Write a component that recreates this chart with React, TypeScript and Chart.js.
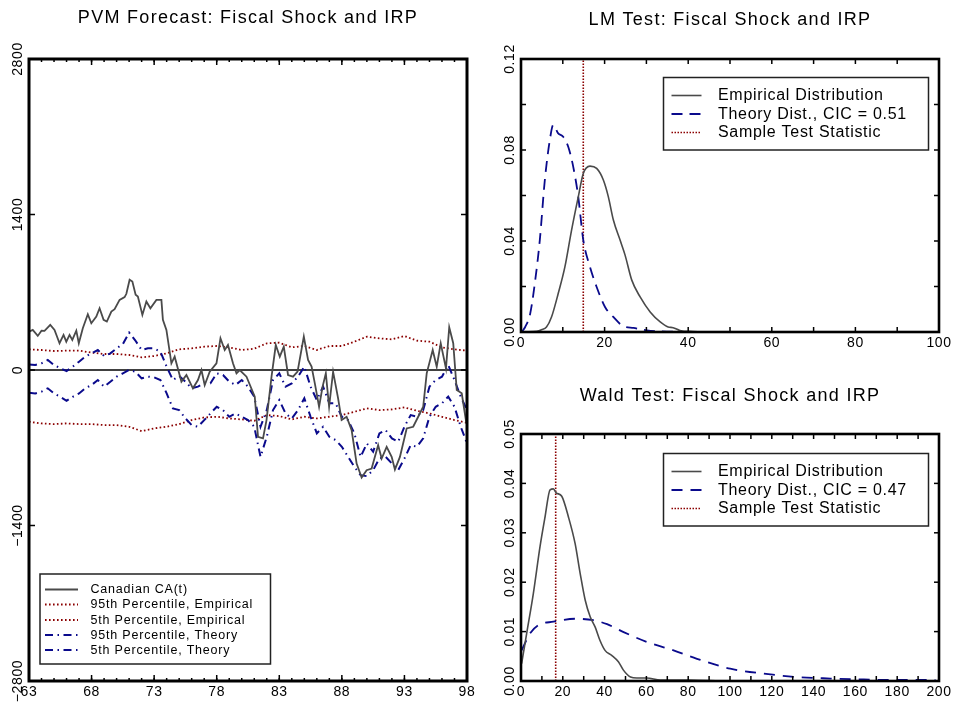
import React, { useEffect, useRef } from 'react';
import { Chart, registerables } from 'chart.js';
Chart.register(...registerables);

// ---------------- PVM panel data ----------------
const caYears = [63.0, 63.3, 63.7, 64.0, 64.24, 64.7, 65.04, 65.44, 65.76, 65.98,
  66.24, 66.46, 66.78, 66.98, 67.3, 67.7, 67.98, 68.38, 68.64, 68.96,
  69.22, 69.58, 69.84, 70.24, 70.64, 70.78, 71.04, 71.26, 71.52, 71.7,
  72.06, 72.38, 72.7, 73.18, 73.58, 73.7, 73.98, 74.38, 74.64, 75.18,
  75.58, 76.1, 76.5, 76.78, 77.04, 77.44, 77.98, 78.3, 78.64, 78.9,
  79.3, 79.58, 79.84, 80.38, 81.04, 81.3, 81.7, 81.98, 82.38, 82.72,
  83.04, 83.36, 83.7, 84.1, 84.46, 84.96, 85.3, 85.58, 85.84, 86.18,
  86.46, 86.72, 86.98, 87.3, 87.7, 87.98, 88.38, 88.78, 89.18, 89.58,
  89.98, 90.38, 90.64, 90.9, 91.18, 91.58, 91.98, 92.24, 92.64, 93.18,
  93.7, 94.1, 94.5, 94.78, 95.26, 95.58, 95.9, 96.32, 96.58, 96.9,
  97.18, 97.58, 97.95];
const caValues = [345, 361, 307, 354, 352, 406, 361, 241, 316, 255,
  316, 271, 354, 241, 376, 502, 421, 481, 556, 451,
  436, 526, 547, 631, 656, 686, 812, 796, 677, 661,
  496, 616, 556, 631, 631, 451, 361, 60, 120, -105,
  -45, -165, -90, 0, -135, -15, 60, 286, 180, 226,
  60, -30, 0, -60, -241, -601, -616, -451, -60, 225,
  120, 210, -45, -60, -15, 300, 90, 30, -120, -331,
  -150, -30, -331, -15, -255, -451, -421, -541, -842, -968,
  -902, -887, -782, -677, -797, -692, -782, -896, -782, -526,
  -511, -421, -331, -30, 180, 30, 241, 15, 385, 241,
  -180, -210, -481];

const empYears = [63, 64, 65, 66, 67, 68, 69, 70, 71, 72, 73, 74, 75, 76, 77, 78, 79, 80,
  81, 82, 83, 84, 85, 86, 87, 88, 89, 90, 91, 92, 93, 94, 95, 96, 97, 98];
const emp95 = [186, 180, 171, 174, 174, 156, 144, 144, 135, 114,
  126, 150, 186, 195, 210, 216, 204, 180, 192, 240,
  246, 204, 216, 180, 216, 216, 255, 300, 285, 276,
  306, 264, 255, 204, 186, 174];
const emp5 = [-466, -481, -487, -481, -487, -487, -496, -496, -511, -550,
  -526, -511, -487, -451, -427, -421, -436, -445, -457, -406,
  -415, -445, -421, -436, -421, -406, -376, -346, -361, -355,
  -337, -367, -391, -421, -451, -475];

const theoryYears = [63, 63.5, 64, 64.5, 65, 65.5, 66, 66.5, 67, 67.5,
  68, 68.5, 69, 69.5, 70, 70.5, 71, 71.5, 72, 72.5,
  73, 73.5, 74, 74.5, 75, 75.5, 76, 76.5, 77, 77.5,
  78, 78.5, 79, 79.5, 80, 80.5, 81, 81.5, 82, 82.5,
  83, 83.5, 84, 84.5, 85, 85.5, 86, 86.5, 87, 87.5,
  88, 88.5, 89, 89.5, 90, 90.5, 91, 91.5, 92, 92.5,
  93, 93.5, 94, 94.5, 95, 95.5, 96, 96.5, 97, 97.5, 98];
const theory95 = [49, 45, 60, 90, 45, 15, -9, 30, 75, 120,
  150, 180, 126, 150, 195, 234, 337, 265, 180, 195,
  195, 165, 30, -90, -54, -105, -165, -150, -120, -120,
  -30, -45, -105, -135, -90, -150, -240, -511, -361, -90,
  -30, -150, -120, -60, 30, -150, -270, -150, -300, -300,
  -421, -451, -571, -782, -661, -736, -571, -541, -616, -646,
  -511, -406, -421, -361, -150, -90, -60, 45, -90, -240, -361];
const theory5 = [-205, -211, -195, -165, -211, -241, -277, -241, -211, -165,
  -135, -90, -150, -105, -60, -30, 0, -15, -75, -60,
  -66, -90, -211, -346, -361, -436, -496, -511, -451, -391,
  -331, -361, -421, -391, -421, -451, -511, -782, -601, -361,
  -270, -391, -436, -361, -255, -421, -571, -511, -601, -631,
  -691, -782, -872, -947, -956, -902, -797, -782, -842, -902,
  -797, -676, -691, -616, -421, -331, -300, -240, -331, -511, -661];

const pvmXRange = [63, 98];
const pvmYRange = [-2800, 2800];
const pvmXLabels = ['63', '68', '73', '78', '83', '88', '93', '98'];
const pvmXLabelValues = [63, 68, 73, 78, 83, 88, 93, 98];
const pvmYLabels = ['\u22122800', '\u22121400', '0', '1400', '2800'];
const pvmYLabelValues = [-2800, -1400, 0, 1400, 2800];

// ---------------- LM panel data ----------------
const lmEmpX = [1, 3.8, 4.9, 6.1, 7.3, 8.9, 10.5, 12.1, 13.7, 14.9,
  16.5, 18.1, 19.7, 20.9, 22.1, 23.7, 24.9, 26.5, 28.5, 30.9,
  33.3, 35.2, 36.4, 38, 41.2, 45.2];
const lmEmpY = [0, 0.0003, 0.001, 0.0022, 0.0066, 0.0169, 0.0286, 0.0448, 0.0594, 0.0697,
  0.0729, 0.0719, 0.0668, 0.0594, 0.0492, 0.0404, 0.0338, 0.0228, 0.0154, 0.0088,
  0.0044, 0.0022, 0.0019, 0.0007, 0.0002, 0];
const lmTheoryX = [0.3, 1.0, 2.2, 3.3, 4.5, 5.7, 6.9, 7.7, 8.9, 10.1,
  11.3, 12.5, 13.7, 14.9, 16.5, 18.1, 20.1, 22.1, 24.5, 26.9,
  30.1, 34.9, 38];
const lmTheoryY = [0.0003, 0.0022, 0.0081, 0.0213, 0.0404, 0.0668, 0.0844, 0.091, 0.0873, 0.0858,
  0.0814, 0.0726, 0.0594, 0.0404, 0.0286, 0.0198, 0.011, 0.0066, 0.0025, 0.0018,
  0.0007, 0.0002, 0];
const lmStat = 14.9;
const lmXLabels = ['0', '20', '40', '60', '80', '100'];
const lmXLabelValues = [0, 20, 40, 60, 80, 100];
const lmYLabels = ['0.00', '0.04', '0.08', '0.12'];
const lmYLabelValues = [0, 0.04, 0.08, 0.12];

// ---------------- Wald panel data ----------------
const waldEmpX = [0.3, 2.7, 5.9, 9.1, 11.5, 13.9, 15.5, 16.8, 19.5, 22.7,
  25.9, 28.3, 30.7, 33.1, 35.5, 37.8, 40.2, 43.4, 46.6, 49,
  52.4, 55.4, 60.2, 66.7, 80.9, 95];
const waldEmpY = [0.0035, 0.0096, 0.0177, 0.0272, 0.0332, 0.0387, 0.0389, 0.0381, 0.0374, 0.0332,
  0.0278, 0.0218, 0.0164, 0.013, 0.0109, 0.0082, 0.0062, 0.0052, 0.0039, 0.0022,
  0.0008, 0.0006, 0.0006, 0.0002, 0.0002, 0];
const waldTheoryX = [0.3, 4.3, 8.3, 15.5, 25.9, 34.6, 41.2, 49.1, 60.3, 73,
  84.2, 100.1, 116.1, 132.1, 148.1, 164, 180, 198.3];
const waldTheoryY = [0.0062, 0.0096, 0.0113, 0.012, 0.0126, 0.0123, 0.0115, 0.0099, 0.0079, 0.0062,
  0.0045, 0.0025, 0.0015, 0.0008, 0.0005, 0.0003, 0.0002, 0.0002];
const waldStat = 16.6;
const waldXLabels = ['0', '20', '40', '60', '80', '100', '120', '140', '160', '180', '200'];
const waldXLabelValues = [0, 20, 40, 60, 80, 100, 120, 140, 160, 180, 200];
const waldYLabels = ['0.00', '0.01', '0.02', '0.03', '0.04', '0.05'];
const waldYLabelValues = [0, 0.01, 0.02, 0.03, 0.04, 0.05];

// ---------------- helpers ----------------
const FONT = '"Liberation Sans", Arial, Helvetica, sans-serif';
const zip = (xs: number[], ys: number[]) => xs.map((x, i) => ({ x, y: ys[i] }));
const range = (a: number, b: number, step: number) => {
  const out: number[] = [];
  for (let v = a; v <= b + step * 1e-6; v += step) out.push(Math.round(v * 1e6) / 1e6);
  return out;
};

interface Decor {
  title: string;
  titleY: number;
  titleFont: string;
  titleSpacing: string;
  border: number;
  xTicks: { vals: number[]; len: number }[];
  yTicks: { vals: number[]; len: number }[];
  xLabels: string[];
  xLabelValues: number[];
  yLabels: string[];
  yLabelValues: number[];
  tickFont: string;
  legend: {
    box: [number, number, number, number];
    lineX: [number, number];
    textX: number;
    rows: number[];
    font: string;
    spacing: string;
    datasets: number[];
  };
}

function makeDecor(d: Decor) {
  return {
    id: 'decor',
    afterDatasetsDraw(chart: any) {
      const ctx: CanvasRenderingContext2D = chart.ctx;
      const a = chart.chartArea;
      const xs = chart.scales.x;
      const ys = chart.scales.y;
      ctx.save();
      ctx.strokeStyle = '#000';
      ctx.setLineDash([]);
      ctx.lineWidth = 1.5;
      const seg = (x1: number, y1: number, x2: number, y2: number) => {
        ctx.beginPath();
        ctx.moveTo(x1, y1);
        ctx.lineTo(x2, y2);
        ctx.stroke();
      };
      d.xTicks.forEach((t) => t.vals.forEach((v) => {
        const px = xs.getPixelForValue(v);
        seg(px, a.bottom, px, a.bottom - t.len);
        seg(px, a.top, px, a.top + t.len);
      }));
      d.yTicks.forEach((t) => t.vals.forEach((v) => {
        const py = ys.getPixelForValue(v);
        seg(a.left, py, a.left + t.len, py);
        seg(a.right, py, a.right - t.len, py);
      }));
      ctx.lineWidth = d.border;
      ctx.strokeRect(a.left, a.top, a.right - a.left, a.bottom - a.top);

      ctx.fillStyle = '#000';
      ctx.font = d.tickFont;
      ctx.textAlign = 'center';
      ctx.textBaseline = 'middle';
      (ctx as any).letterSpacing = '0.6px';
      d.xLabels.forEach((t, i) => ctx.fillText(t, xs.getPixelForValue(d.xLabelValues[i]), a.bottom + 11));
      d.yLabels.forEach((t, i) => {
        ctx.save();
        ctx.translate(a.left - 11, ys.getPixelForValue(d.yLabelValues[i]));
        ctx.rotate(-Math.PI / 2);
        ctx.fillText(t, 0, 0);
        ctx.restore();
      });

      ctx.font = d.titleFont;
      (ctx as any).letterSpacing = d.titleSpacing;
      ctx.fillText(d.title, (a.left + a.right) / 2, d.titleY);

      // legend
      const L = d.legend;
      ctx.fillStyle = '#fff';
      ctx.fillRect(L.box[0], L.box[1], L.box[2] - L.box[0], L.box[3] - L.box[1]);
      ctx.strokeStyle = '#222';
      ctx.lineWidth = 1.5;
      ctx.setLineDash([]);
      ctx.strokeRect(L.box[0], L.box[1], L.box[2] - L.box[0], L.box[3] - L.box[1]);
      ctx.font = L.font;
      (ctx as any).letterSpacing = L.spacing;
      ctx.textAlign = 'left';
      L.datasets.forEach((di, i) => {
        const ds = chart.data.datasets[di];
        const y = L.rows[i];
        ctx.strokeStyle = ds.borderColor;
        ctx.lineWidth = ds.borderWidth;
        ctx.setLineDash(ds.borderDash || []);
        seg(L.lineX[0], y, L.lineX[1], y);
        ctx.setLineDash([]);
        ctx.fillStyle = '#000';
        ctx.fillText(ds.label, L.textX, y + 0.5);
      });
      ctx.restore();
    },
  };
}

function baseOptions(xr: number[], yr: number[], padding: any) {
  return {
    responsive: false,
    animation: false,
    devicePixelRatio: 1,
    events: [],
    layout: { padding },
    plugins: { legend: { display: false }, title: { display: false }, tooltip: { enabled: false } },
    scales: {
      x: { type: 'linear', min: xr[0], max: xr[1], display: false },
      y: { type: 'linear', min: yr[0], max: yr[1], display: false },
    },
    elements: { point: { radius: 0 } },
  };
}

const GREY = '#4a4a4a';
const RED = '#8b0000';
const BLUE = '#0a0a8c';

function pvmConfig() {
  return {
    type: 'line',
    data: {
      datasets: [
        { label: 'Canadian CA(t)', data: zip(caYears, caValues), borderColor: GREY, borderWidth: 1.8, tension: 0 },
        { label: '95th Percentile, Theory', data: zip(theoryYears, theory95), borderColor: BLUE, borderWidth: 2, borderDash: [8, 4.5, 1.5, 4.5] },
        { label: '5th Percentile, Theory', data: zip(theoryYears, theory5), borderColor: BLUE, borderWidth: 2, borderDash: [8, 4.5, 1.5, 4.5] },
        { label: '95th Percentile, Empirical', data: zip(empYears, emp95), borderColor: RED, borderWidth: 1.8, borderDash: [1.6, 2.4] },
        { label: '5th Percentile, Empirical', data: zip(empYears, emp5), borderColor: RED, borderWidth: 1.8, borderDash: [1.6, 2.4] },
        { label: 'zero', data: zip(pvmXRange, [0, 0]), borderColor: '#000', borderWidth: 1.5 },
      ],
    },
    options: baseOptions(pvmXRange, pvmYRange, { left: 29, top: 59, right: 13, bottom: 23 }),
    plugins: [makeDecor({
      title: 'PVM Forecast: Fiscal Shock and IRP',
      titleY: 18,
      titleFont: `18px ${FONT}`,
      titleSpacing: '1.3px',
      border: 3,
      xTicks: [{ vals: range(63, 98, 1), len: 3 }, { vals: pvmXLabelValues, len: 6 }],
      yTicks: [{ vals: pvmYLabelValues, len: 6 }],
      xLabels: pvmXLabels,
      xLabelValues: pvmXLabelValues,
      yLabels: pvmYLabels,
      yLabelValues: pvmYLabelValues,
      tickFont: `14px ${FONT}`,
      legend: {
        box: [40, 574, 270.5, 664],
        lineX: [45, 78],
        textX: 90.5,
        rows: [589.5, 604.5, 620, 635, 650],
        font: `12.5px ${FONT}`,
        spacing: '0.8px',
        datasets: [0, 3, 4, 1, 2],
      },
    })],
  };
}

function lmConfig() {
  return {
    type: 'line',
    data: {
      datasets: [
        { label: 'Empirical Distribution', data: zip(lmEmpX, lmEmpY), borderColor: GREY, borderWidth: 1.6, cubicInterpolationMode: 'monotone' },
        { label: 'Theory Dist., CIC = 0.51', data: zip(lmTheoryX, lmTheoryY), borderColor: BLUE, borderWidth: 1.8, borderDash: [11, 7], cubicInterpolationMode: 'monotone' },
        { label: 'Sample Test Statistic', data: zip([lmStat, lmStat], [0, 0.12]), borderColor: RED, borderWidth: 1.6, borderDash: [1.5, 1.5] },
      ],
    },
    options: baseOptions([0, 100], [0, 0.12], { left: 41, top: 59, right: 14, bottom: 28 }),
    plugins: [makeDecor({
      title: 'LM Test: Fiscal Shock and IRP',
      titleY: 20,
      titleFont: `18px ${FONT}`,
      titleSpacing: '1.3px',
      border: 2.6,
      xTicks: [{ vals: range(0, 100, 10), len: 5 }],
      yTicks: [{ vals: range(0, 0.12, 0.02), len: 5 }],
      xLabels: lmXLabels,
      xLabelValues: lmXLabelValues,
      yLabels: lmYLabels,
      yLabelValues: lmYLabelValues,
      tickFont: `14px ${FONT}`,
      legend: {
        box: [183.5, 77.5, 448.5, 150],
        lineX: [191.5, 221.5],
        textX: 238,
        rows: [95.5, 114, 132.5],
        font: `16px ${FONT}`,
        spacing: '0.7px',
        datasets: [0, 1, 2],
      },
    })],
  };
}

function waldConfig() {
  return {
    type: 'line',
    data: {
      datasets: [
        { label: 'Empirical Distribution', data: zip(waldEmpX, waldEmpY), borderColor: GREY, borderWidth: 1.6, cubicInterpolationMode: 'monotone' },
        { label: 'Theory Dist., CIC = 0.47', data: zip(waldTheoryX, waldTheoryY), borderColor: BLUE, borderWidth: 1.8, borderDash: [11, 8], cubicInterpolationMode: 'monotone' },
        { label: 'Sample Test Statistic', data: zip([waldStat, waldStat], [0, 0.05]), borderColor: RED, borderWidth: 1.6, borderDash: [1.5, 1.5] },
      ],
    },
    options: baseOptions([0, 200], [0, 0.05], { left: 41, top: 74, right: 14, bottom: 23 }),
    plugins: [makeDecor({
      title: 'Wald Test: Fiscal Shock and IRP',
      titleY: 36,
      titleFont: `18px ${FONT}`,
      titleSpacing: '1.3px',
      border: 2.6,
      xTicks: [{ vals: range(0, 200, 10), len: 5 }],
      yTicks: [{ vals: range(0, 0.05, 0.01), len: 5 }],
      xLabels: waldXLabels,
      xLabelValues: waldXLabelValues,
      yLabels: waldYLabels,
      yLabelValues: waldYLabelValues,
      tickFont: `14px ${FONT}`,
      legend: {
        box: [183.5, 93.5, 448.5, 166],
        lineX: [191.5, 221.5],
        textX: 238,
        rows: [111.5, 130, 148.5],
        font: `16px ${FONT}`,
        spacing: '0.7px',
        datasets: [0, 1, 2],
      },
    })],
  };
}

function Panel(props: { w: number; h: number; left: number; top: number; make: () => any }) {
  const ref = useRef<HTMLCanvasElement>(null);
  useEffect(() => {
    const chart = new Chart(ref.current as HTMLCanvasElement, props.make());
    return () => chart.destroy();
  }, []);
  return (
    <canvas
      ref={ref}
      width={props.w}
      height={props.h}
      style={{ position: 'absolute', left: props.left, top: props.top, width: props.w, height: props.h }}
    />
  );
}

export default function App() {
  return (
    <div style={{ position: 'fixed', left: 0, top: 0, width: 953, height: 704, background: '#fff' }}>
      <Panel w={480} h={704} left={0} top={0} make={pvmConfig} />
      <Panel w={473} h={360} left={480} top={0} make={lmConfig} />
      <Panel w={473} h={344} left={480} top={360} make={waldConfig} />
    </div>
  );
}
